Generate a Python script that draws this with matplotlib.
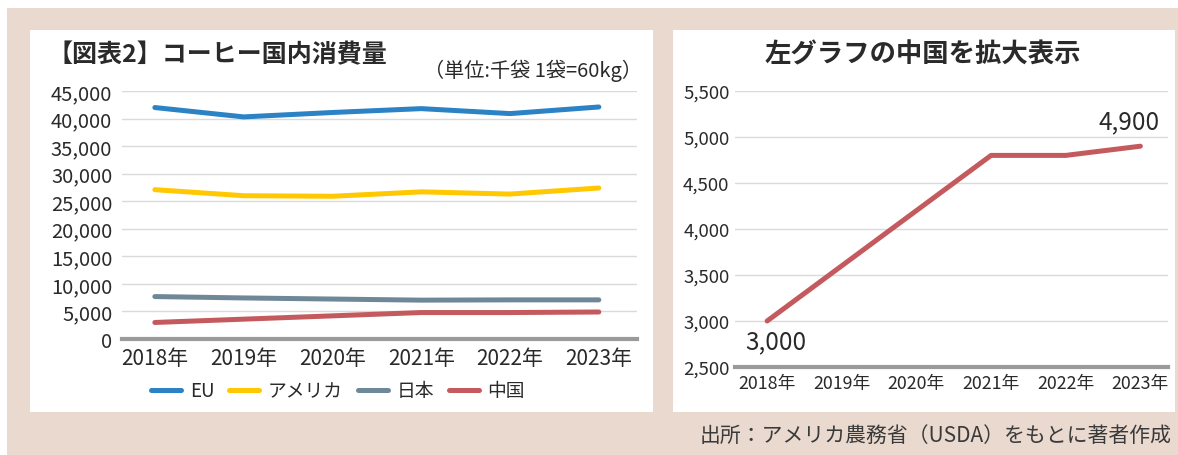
# コーヒー国内消費量の図表（左：全体、右：中国を拡大）
#
# out.png を出力する

import matplotlib

matplotlib.use("Agg")  # 画面なし
import matplotlib.pyplot as plt
from matplotlib.patches import Rectangle
from matplotlib.ticker import FuncFormatter

plt.rcParams["font.family"] = ["Noto Sans CJK JP", "DejaVu Sans"]

# ---------------------------------------------------------------------------
# データ（単位：千袋）
# ---------------------------------------------------------------------------

years = ["2018年", "2019年", "2020年", "2021年", "2022年", "2023年"]
eu = [42000, 40300, 41100, 41800, 40900, 42100]
america = [27100, 26000, 25900, 26700, 26300, 27400]
japan = [7700, 7450, 7250, 7050, 7100, 7100]
china = [3000, 3600, 4200, 4800, 4800, 4900]

series_names = ["EU", "アメリカ", "日本", "中国"]
series_values = [eu, america, japan, china]
series_colors = ["#2b82c4", "#ffc800", "#6f8898", "#c45a5d"]

left_yticks = list(range(0, 45001, 5000))
right_yticks = list(range(2500, 5501, 500))

# ---------------------------------------------------------------------------
# レイアウト
# ---------------------------------------------------------------------------

W, H = 1178, 456
BG = "#e9d9cf"
TXT = "#2a2a2a"
GRID = "#dadada"
AXIS = "#9a9a9a"


def fx(px):
    return px / W


def fy(px):
    return 1 - px / H


fig = plt.figure(figsize=(W / 100, H / 100), dpi=100, facecolor="white")

# 背景と白いパネル
fig.patches.append(
    Rectangle((fx(7), 0), 1 - fx(7), fy(9), transform=fig.transFigure,
              facecolor=BG, edgecolor="none", zorder=-3)
)
for x0, x1 in [(30, 653), (673, 1175)]:
    fig.patches.append(
        Rectangle((fx(x0), fy(413)), fx(x1) - fx(x0), fy(31) - fy(413),
                  transform=fig.transFigure, facecolor="white",
                  edgecolor="none", zorder=-2)
    )

comma = FuncFormatter(lambda v, p: f"{int(v):,}")


def style_axes(ax, ytick_size, xtick_size, ypad, xpad):
    for s in ["top", "left", "right"]:
        ax.spines[s].set_visible(False)
    ax.spines["bottom"].set_color(AXIS)
    ax.spines["bottom"].set_linewidth(3)
    ax.grid(axis="y", color=GRID, linewidth=1)
    ax.set_axisbelow(True)
    ax.yaxis.set_major_formatter(comma)
    ax.tick_params(axis="y", length=0, pad=ypad, labelsize=ytick_size, colors=TXT)
    ax.tick_params(axis="x", length=0, pad=xpad, labelsize=xtick_size, colors=TXT)
    ax.set_facecolor("none")


# ---------------------------------------------------------------------------
# 左：国別の消費量
# ---------------------------------------------------------------------------

ax1 = fig.add_axes([fx(122), fy(340), fx(637) - fx(122), fy(92) - fy(340)])
x = list(range(len(years)))
for name, vals, col in zip(series_names, series_values, series_colors):
    ax1.plot(x, vals, color=col, linewidth=3.6, solid_capstyle="round", label=name)
ax1.set_xlim(-0.37, 5.43)
ax1.set_ylim(0, 45000)
ax1.set_yticks(left_yticks)
ax1.set_xticks(x)
ax1.set_xticklabels(years)
style_axes(ax1, 14.5, 15, 7, 6)

fig.legend(
    loc="center", bbox_to_anchor=(fx(338), fy(392)), ncol=4, frameon=False,
    fontsize=13.5, handlelength=1.6, handletextpad=0.45, columnspacing=0.8,
    labelcolor=TXT,
)

fig.text(fx(48), fy(55), "【図表2】コーヒー国内消費量", fontsize=18,
         fontweight="bold", color=TXT, ha="left", va="center")
fig.text(fx(642), fy(71), "（単位:千袋 1袋=60kg）", fontsize=14.5,
         color=TXT, ha="right", va="center")

# ---------------------------------------------------------------------------
# 右：中国を拡大
# ---------------------------------------------------------------------------

ax2 = fig.add_axes([fx(735), fy(368), fx(1168) - fx(735), fy(92) - fy(368)])
ax2.plot(x, china, color=series_colors[3], linewidth=3.6, solid_capstyle="round")
ax2.set_xlim(-0.43, 5.37)
ax2.set_ylim(2500, 5500)
ax2.set_yticks(right_yticks)
ax2.set_xticks(x)
ax2.set_xticklabels(years)
style_axes(ax2, 13.4, 12.8, 4, 5)

ax2.annotate(f"{china[0]:,}", xy=(x[0], china[0]), xytext=(6.5, -14.5),
             textcoords="offset points", ha="center", va="center",
             fontsize=17.5, color=TXT)
ax2.annotate(f"{china[-1]:,}", xy=(x[-1], china[-1]), xytext=(-8, 18),
             textcoords="offset points", ha="center", va="center",
             fontsize=17.5, color=TXT)

fig.text(fx(923), fy(55), "左グラフの中国を拡大表示", fontsize=19,
         fontweight="bold", color=TXT, ha="center", va="center")

# 出所
fig.text(fx(1172), fy(436), "出所：アメリカ農務省（USDA）をもとに著者作成",
         fontsize=15, color="#3a3a3a", ha="right", va="center")

fig.savefig("out.png", dpi=100, facecolor=fig.get_facecolor())
